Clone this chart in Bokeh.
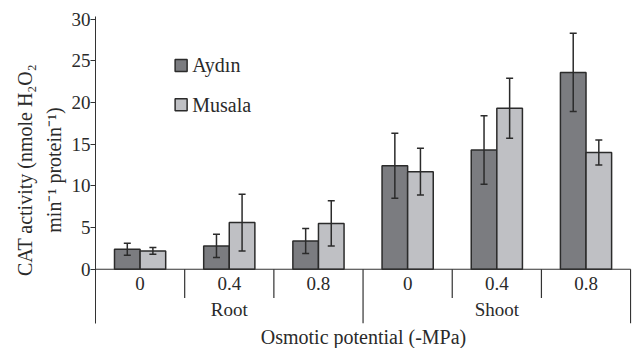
import numpy as np
from bokeh.plotting import figure
from bokeh.models import ColumnDataSource, Whisker, TeeHead, Title, FixedTicker, Range1d
from bokeh.core.properties import value
from bokeh.embed import file_html
from bokeh.resources import INLINE

# ---- data ----
organs = ["Root", "Shoot"]
levels = ["0", "0.4", "0.8"]
series = ["Aydın", "Musala"]
aydin = [2.4, 2.8, 3.4, 12.4, 14.3, 23.6]
aydin_err = [0.72, 1.4, 1.5, 3.9, 4.1, 4.7]
musala = [2.2, 5.6, 5.5, 11.7, 19.3, 14.0]
musala_err = [0.4, 3.4, 2.7, 2.8, 3.6, 1.5]
y_ticks = [0, 5, 10, 15, 20, 25, 30]

FONT = "Liberation Serif"
TXT = "#2a2a2a"
C_A = "#7b7c80"
C_M = "#bfc0c4"
EDGE = "#2b2b2b"

n = len(aydin)
bw = 0.287
centers = np.arange(n) + 0.5

p = figure(width=636, height=348, output_backend="svg", toolbar_location=None,
           x_range=Range1d(0, 6.01), y_range=Range1d(-6.5, 30.3),
           min_border_left=95, min_border_right=5, min_border_top=16, min_border_bottom=25)
p.outline_line_color = None
p.grid.visible = False
p.xaxis.visible = False
p.background_fill_color = "white"
p.border_fill_color = "white"

yax = p.yaxis[0]
yax.ticker = FixedTicker(ticks=y_ticks)
yax.minor_tick_line_color = None
yax.major_tick_out = 5
yax.major_tick_in = 0
yax.axis_line_color = "#333333"
yax.major_tick_line_color = "#333333"
yax.major_label_text_font = FONT
yax.major_label_text_font_size = "19px"
yax.major_label_text_color = TXT
yax.major_label_standoff = 0

# bars
src_a = ColumnDataSource(dict(x=centers - bw / 2, top=aydin,
                              up=np.array(aydin) + np.array(aydin_err),
                              lo=np.array(aydin) - np.array(aydin_err)))
src_m = ColumnDataSource(dict(x=centers + bw / 2, top=musala,
                              up=np.array(musala) + np.array(musala_err),
                              lo=np.array(musala) - np.array(musala_err)))
p.vbar(x="x", top="top", bottom=0, width=bw, source=src_a, fill_color=C_A,
       line_color=EDGE, line_width=1.5)
p.vbar(x="x", top="top", bottom=0, width=bw, source=src_m, fill_color=C_M,
       line_color=EDGE, line_width=1.5)
for s in (src_a, src_m):
    p.add_layout(Whisker(base="x", upper="up", lower="lo", source=s, level="overlay",
                         line_color="#2b2b2b", line_width=1.5,
                         upper_head=TeeHead(size=7, line_color="#2b2b2b", line_width=1.5),
                         lower_head=TeeHead(size=7, line_color="#2b2b2b", line_width=1.5)))

# x axis line and category separators
p.segment(x0=[0], y0=[0], x1=[6], y1=[0], line_color="#333333", line_width=1.2)
p.segment(x0=[1, 2, 4, 5], y0=[0] * 4, x1=[1, 2, 4, 5], y1=[-3.45] * 4,
          line_color="#333333", line_width=1.2)
p.segment(x0=[3, 6], y0=[0, 0], x1=[3, 6], y1=[-6.5, -6.5],
          line_color="#333333", line_width=1.2)

# category labels
lvl_labels = levels * len(organs)
p.text(x=list(centers), y=[-1.75] * n, text=lvl_labels, text_align="center",
       text_baseline="middle", text_font=value(FONT), text_font_size="19px",
       text_color=TXT)
p.text(x=[1.5, 4.5], y=[-4.85, -4.85], text=organs, text_align="center",
       text_baseline="middle", text_font=value(FONT), text_font_size="19px",
       text_color=TXT)

# legend
p.rect(x=[0.96, 0.96], y=[24.44, 19.72], width=12, height=12,
       width_units="screen", height_units="screen",
       fill_color=[C_A, C_M], line_color=EDGE, line_width=1.5)
p.text(x=[1.085, 1.085], y=[24.44, 19.72], text=series, text_align="left",
       text_baseline="middle", text_font=value(FONT), text_font_size="20px",
       text_color=TXT)

# axis titles
def mk_title(txt, offset, standoff):
    return Title(text=txt, align="center", offset=offset, standoff=standoff,
                 text_font=FONT, text_font_size="20px", text_font_style="normal",
                 text_color=TXT)

p.add_layout(mk_title("min⁻¹ protein⁻¹)", 20, 7), "left")
p.add_layout(mk_title("CAT activity (nmole H₂O₂", 16, 4), "left")
p.add_layout(mk_title("Osmotic potential (-MPa)", -17, 0), "below")

open("out.html", "w").write(file_html(p, INLINE))
